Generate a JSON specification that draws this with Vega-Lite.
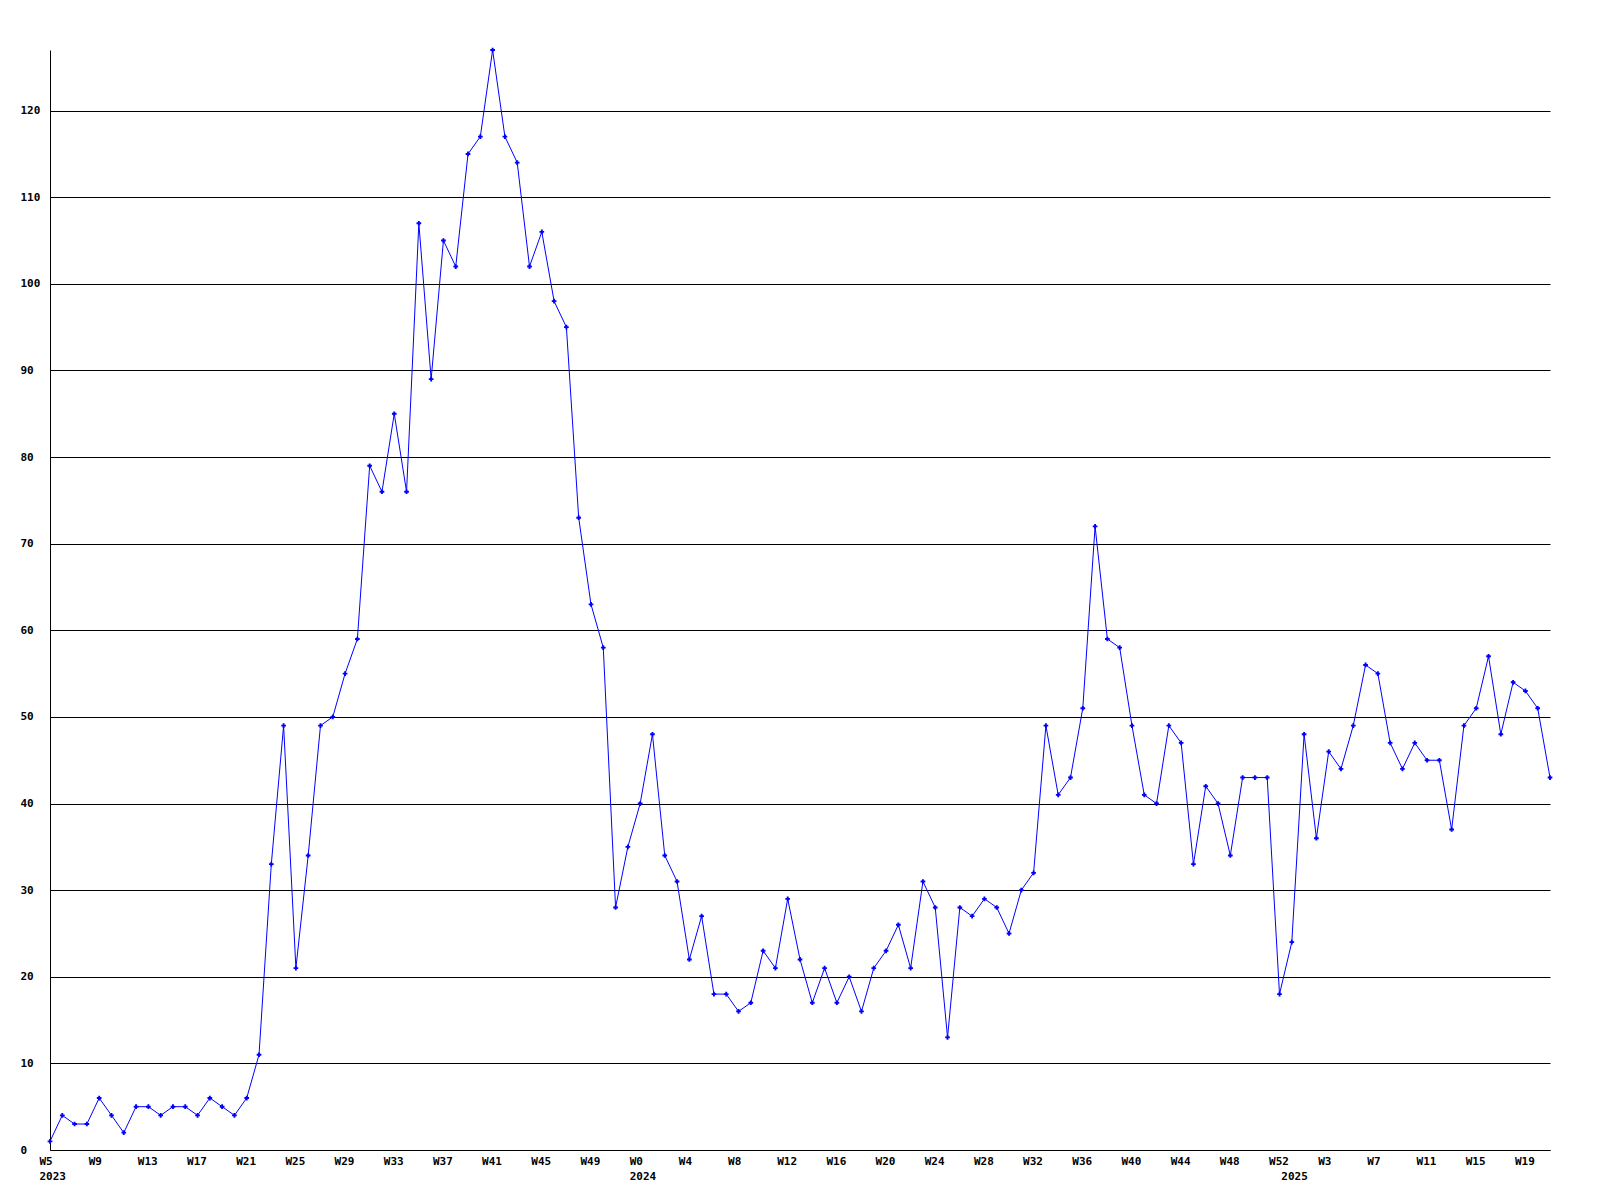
{
  "$schema": "https://vega.github.io/schema/vega-lite/v6.json",
  "width": 1500,
  "height": 1100,
  "autosize": {"type": "none"},
  "padding": {"left": 50, "top": 50, "right": 50, "bottom": 50},
  "background": "white",
  "config": {
    "view": {"stroke": null},
    "axis": {
      "labelFont": "DejaVu Sans Mono",
      "labelFontWeight": "bold",
      "labelFontSize": 11,
      "labelColor": "black",
      "domainColor": "black",
      "domainWidth": 1,
      "ticks": false,
      "gridColor": "black",
      "gridOpacity": 1,
      "gridWidth": 1,
      "labelOverlap": false,
      "labelBound": false,
      "labelFlush": false
    }
  },
  "data": {
    "values": [
      {"week": "2023 W5", "count": 1}, {"week": "2023 W6", "count": 4}, {"week": "2023 W7", "count": 3}, {"week": "2023 W8", "count": 3},
      {"week": "2023 W9", "count": 6}, {"week": "2023 W10", "count": 4}, {"week": "2023 W11", "count": 2}, {"week": "2023 W12", "count": 5},
      {"week": "2023 W13", "count": 5}, {"week": "2023 W14", "count": 4}, {"week": "2023 W15", "count": 5}, {"week": "2023 W16", "count": 5},
      {"week": "2023 W17", "count": 4}, {"week": "2023 W18", "count": 6}, {"week": "2023 W19", "count": 5}, {"week": "2023 W20", "count": 4},
      {"week": "2023 W21", "count": 6}, {"week": "2023 W22", "count": 11}, {"week": "2023 W23", "count": 33}, {"week": "2023 W24", "count": 49},
      {"week": "2023 W25", "count": 21}, {"week": "2023 W26", "count": 34}, {"week": "2023 W27", "count": 49}, {"week": "2023 W28", "count": 50},
      {"week": "2023 W29", "count": 55}, {"week": "2023 W30", "count": 59}, {"week": "2023 W31", "count": 79}, {"week": "2023 W32", "count": 76},
      {"week": "2023 W33", "count": 85}, {"week": "2023 W34", "count": 76}, {"week": "2023 W35", "count": 107}, {"week": "2023 W36", "count": 89},
      {"week": "2023 W37", "count": 105}, {"week": "2023 W38", "count": 102}, {"week": "2023 W39", "count": 115}, {"week": "2023 W40", "count": 117},
      {"week": "2023 W41", "count": 127}, {"week": "2023 W42", "count": 117}, {"week": "2023 W43", "count": 114}, {"week": "2023 W44", "count": 102},
      {"week": "2023 W45", "count": 106}, {"week": "2023 W46", "count": 98}, {"week": "2023 W47", "count": 95}, {"week": "2023 W48", "count": 73},
      {"week": "2023 W49", "count": 63}, {"week": "2023 W50", "count": 58}, {"week": "2023 W51", "count": 28}, {"week": "2023 W52", "count": 35},
      {"week": "2024 W0", "count": 40}, {"week": "2024 W1", "count": 48}, {"week": "2024 W2", "count": 34}, {"week": "2024 W3", "count": 31},
      {"week": "2024 W4", "count": 22}, {"week": "2024 W5", "count": 27}, {"week": "2024 W6", "count": 18}, {"week": "2024 W7", "count": 18},
      {"week": "2024 W8", "count": 16}, {"week": "2024 W9", "count": 17}, {"week": "2024 W10", "count": 23}, {"week": "2024 W11", "count": 21},
      {"week": "2024 W12", "count": 29}, {"week": "2024 W13", "count": 22}, {"week": "2024 W14", "count": 17}, {"week": "2024 W15", "count": 21},
      {"week": "2024 W16", "count": 17}, {"week": "2024 W17", "count": 20}, {"week": "2024 W18", "count": 16}, {"week": "2024 W19", "count": 21},
      {"week": "2024 W20", "count": 23}, {"week": "2024 W21", "count": 26}, {"week": "2024 W22", "count": 21}, {"week": "2024 W23", "count": 31},
      {"week": "2024 W24", "count": 28}, {"week": "2024 W25", "count": 13}, {"week": "2024 W26", "count": 28}, {"week": "2024 W27", "count": 27},
      {"week": "2024 W28", "count": 29}, {"week": "2024 W29", "count": 28}, {"week": "2024 W30", "count": 25}, {"week": "2024 W31", "count": 30},
      {"week": "2024 W32", "count": 32}, {"week": "2024 W33", "count": 49}, {"week": "2024 W34", "count": 41}, {"week": "2024 W35", "count": 43},
      {"week": "2024 W36", "count": 51}, {"week": "2024 W37", "count": 72}, {"week": "2024 W38", "count": 59}, {"week": "2024 W39", "count": 58},
      {"week": "2024 W40", "count": 49}, {"week": "2024 W41", "count": 41}, {"week": "2024 W42", "count": 40}, {"week": "2024 W43", "count": 49},
      {"week": "2024 W44", "count": 47}, {"week": "2024 W45", "count": 33}, {"week": "2024 W46", "count": 42}, {"week": "2024 W47", "count": 40},
      {"week": "2024 W48", "count": 34}, {"week": "2024 W49", "count": 43}, {"week": "2024 W50", "count": 43}, {"week": "2024 W51", "count": 43},
      {"week": "2024 W52", "count": 18},
      {"week": "2025 W0", "count": 24}, {"week": "2025 W1", "count": 48}, {"week": "2025 W2", "count": 36}, {"week": "2025 W3", "count": 46},
      {"week": "2025 W4", "count": 44}, {"week": "2025 W5", "count": 49}, {"week": "2025 W6", "count": 56}, {"week": "2025 W7", "count": 55},
      {"week": "2025 W8", "count": 47}, {"week": "2025 W9", "count": 44}, {"week": "2025 W10", "count": 47}, {"week": "2025 W11", "count": 45},
      {"week": "2025 W12", "count": 45}, {"week": "2025 W13", "count": 37}, {"week": "2025 W14", "count": 49}, {"week": "2025 W15", "count": 51},
      {"week": "2025 W16", "count": 57}, {"week": "2025 W17", "count": 48}, {"week": "2025 W18", "count": 54}, {"week": "2025 W19", "count": 53},
      {"week": "2025 W20", "count": 51}, {"week": "2025 W21", "count": 43}
    ]
  },
  "layer": [
    {
      "mark": {"type": "line", "color": "#0000ff", "strokeWidth": 1},
      "encoding": {
        "x": {
          "field": "week", "type": "ordinal", "sort": null,
          "scale": {"type": "point", "padding": 0},
          "axis": {
            "orient": "bottom", "title": null, "grid": false, "labelAngle": 0,
            "labelAlign": "left", "labelOffset": -11, "labelPadding": 5,
            "values": ["2023 W5", "2023 W9", "2023 W13", "2023 W17", "2023 W21", "2023 W25", "2023 W29", "2023 W33", "2023 W37", "2023 W41", "2023 W45", "2023 W49",
                       "2024 W0", "2024 W4", "2024 W8", "2024 W12", "2024 W16", "2024 W20", "2024 W24", "2024 W28", "2024 W32", "2024 W36", "2024 W40", "2024 W44", "2024 W48", "2024 W52",
                       "2025 W3", "2025 W7", "2025 W11", "2025 W15", "2025 W19"],
            "labelExpr": "split(datum.value, ' ')[1]"
          }
        },
        "y": {
          "field": "count", "type": "quantitative",
          "scale": {"domain": [0, 127], "nice": false, "zero": true},
          "axis": {"title": null, "grid": true, "values": [0, 10, 20, 30, 40, 50, 60, 70, 80, 90, 100, 110, 120], "labelAlign": "left", "labelPadding": 30}
        }
      }
    },
    {
      "mark": {"type": "point", "shape": "cross", "filled": true, "color": "#0000ff", "size": 22, "opacity": 1},
      "encoding": {
        "x": {
          "field": "week", "type": "ordinal", "sort": null,
          "scale": {"type": "point", "padding": 0},
          "axis": {
            "orient": "bottom", "title": null, "grid": false, "domain": false, "labelAngle": 0,
            "labelAlign": "left", "labelOffset": -11, "labelPadding": 20,
            "values": ["2023 W5", "2024 W0", "2025 W0"],
            "labelExpr": "split(datum.value, ' ')[0]"
          }
        },
        "y": {
          "field": "count", "type": "quantitative",
          "scale": {"domain": [0, 127], "nice": false, "zero": true},
          "axis": {"title": null, "grid": true, "values": [0, 10, 20, 30, 40, 50, 60, 70, 80, 90, 100, 110, 120], "labelAlign": "left", "labelPadding": 30}
        }
      }
    }
  ],
  "resolve": {"axis": {"x": "independent"}}
}
